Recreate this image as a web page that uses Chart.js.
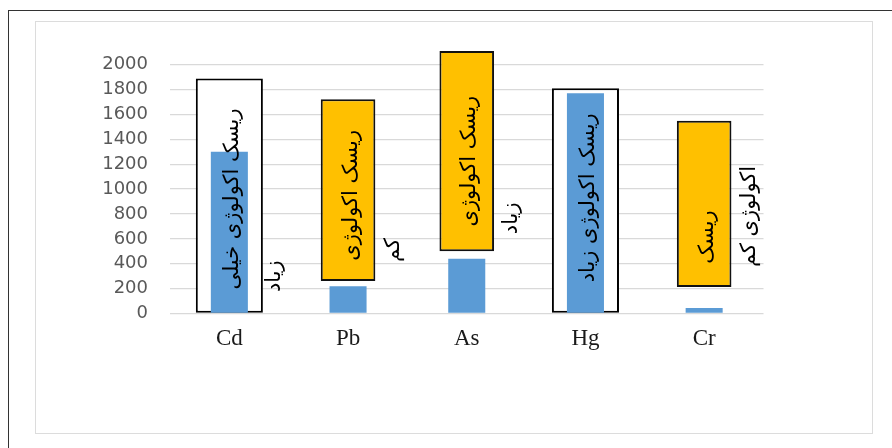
<!DOCTYPE html>
<html>
<head>
<meta charset="utf-8">
<script src="https://cdn.jsdelivr.net/npm/chart.js@4"></script>
<style>
  body { margin: 0; background: #fff; width: 892px; height: 448px; overflow: hidden; position: relative; }
  #outer { position: absolute; left: 8px; top: 10px; width: 900px; height: 460px; border-top: 1.5px solid #333; border-left: 1.5px solid #333; }
  #inner { position: absolute; left: 35px; top: 21px; width: 836px; height: 411px; border: 1.5px solid #dcdcdc; }
  #chart { position: absolute; left: 0; top: 0; }
</style>
</head>
<body>
<div id="outer"></div>
<div id="inner"></div>
<canvas id="chart" width="892" height="448"></canvas>
<script>
// فلزات
const metals = ['Cd', 'Pb', 'As', 'Hg', 'Cr'];
// مقدار شاخص (ستون آبی)
const riskIndex = [1300, 220, 440, 1770, 45];
// کادرهای سفید (ریسک زیاد)
const whiteBoxes = [[0, 1890], null, null, [0, 1810], null];
// کادرهای نارنجی
const orangeBoxes = [null, [262, 1722], [500, 2110], null, [214, 1550]];
// برچسب‌های داخل کادر و ادامه‌ی آن‌ها
const innerText = ['ریسک اکولوژی خیلی', 'ریسک اکولوژی', 'ریسک اکولوژی', 'ریسک اکولوژی زیاد', 'ریسک'];
const innerAt = [920, 950, 1225, 930, 615];
const outerText = ['زیاد', 'کم', 'زیاد', '', 'اکولوژی کم'];
const outerAt = [300, 510, 765, null, 780];
const yTicks = [0, 200, 400, 600, 800, 1000, 1200, 1400, 1600, 1800, 2000];

// نوشتن برچسب‌های چرخیده
const riskLabels = {
  id: 'riskLabels',
  afterDatasetsDraw(chart) {
    const ctx = chart.ctx;
    const xs = chart.scales.x, ys = chart.scales.y;
    ctx.save();
    ctx.fillStyle = '#000';
    ctx.font = '21px "DejaVu Sans"';
    ctx.textAlign = 'center';
    ctx.textBaseline = 'middle';
    ctx.direction = 'rtl';
    const draw = (text, x, y) => {
      ctx.save();
      ctx.translate(x, y);
      ctx.rotate(-Math.PI / 2);
      ctx.fillText(text, 0, 0);
      ctx.restore();
    };
    metals.forEach((m, i) => {
      const x = xs.getPixelForValue(i);
      draw(innerText[i], x + 3, ys.getPixelForValue(innerAt[i]));
      if (outerText[i]) draw(outerText[i], x + 45, ys.getPixelForValue(outerAt[i]));
    });
    ctx.restore();
  }
};

new Chart(document.getElementById('chart').getContext('2d'), {
  type: 'bar',
  data: {
    labels: metals,
    datasets: [
      {
        data: riskIndex,
        backgroundColor: '#5B9BD5',
        barPercentage: 0.312,
        categoryPercentage: 1
      },
      {
        data: whiteBoxes,
        backgroundColor: '#ffffff',
        borderColor: '#000',
        borderWidth: 2,
        borderSkipped: false,
        barPercentage: 0.565,
        categoryPercentage: 1,
        clip: false
      },
      {
        data: orangeBoxes,
        backgroundColor: '#FFC000',
        borderColor: '#111',
        borderWidth: 2,
        borderSkipped: false,
        barPercentage: 0.46,
        categoryPercentage: 1,
        clip: false
      }
    ]
  },
  options: {
    responsive: false,
    animation: false,
    grouped: false,
    layout: { padding: { left: 0, top: 64.7, right: 128.5, bottom: 0 } },
    plugins: { legend: { display: false }, tooltip: { enabled: false } },
    scales: {
      x: {
        grid: { display: false },
        border: { display: false },
        ticks: { font: { family: 'Liberation Serif', size: 23 }, color: '#1a1a1a', padding: 4 },
        afterFit: s => { s.height = 134.5; }
      },
      y: {
        min: 0,
        max: 2000,
        grid: { color: '#d9d9d9', lineWidth: 1.3, drawTicks: false },
        border: { display: false },
        ticks: { font: { family: 'DejaVu Sans', size: 18 }, color: '#595959', padding: 22, callback: v => String(v) },
        afterBuildTicks: s => { s.ticks = yTicks.map(v => ({ value: v })); },
        afterFit: s => { s.width = 170; }
      }
    }
  },
  plugins: [riskLabels]
});
</script>
</body>
</html>
